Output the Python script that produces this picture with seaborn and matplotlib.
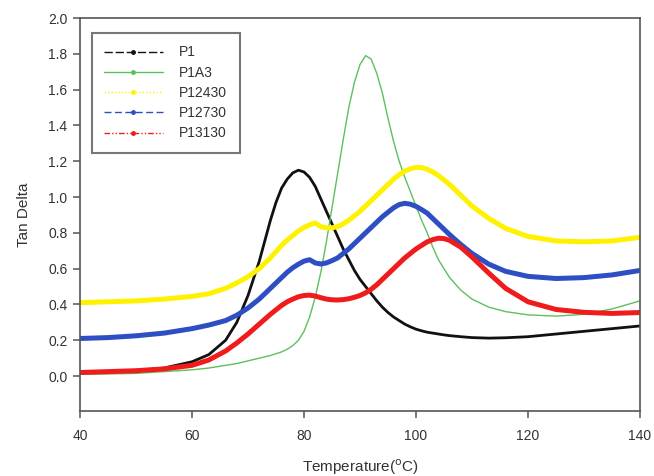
import numpy as np
import pandas as pd
import matplotlib
matplotlib.use("Agg")
import matplotlib.pyplot as plt
from matplotlib.lines import Line2D
import seaborn as sns

# temperatures (degC)
temps = [40, 45, 50, 55, 60, 63, 66, 68, 70, 72, 74, 75, 76, 77, 78, 79, 80, 81, 82, 83, 84, 85, 86, 87, 88, 89,
         90, 91, 92, 93, 94, 95, 96, 97, 98, 99, 100, 101, 102, 103, 104, 105, 106, 108, 110, 113, 116, 120,
         125, 130, 135, 140]

p1 = [0.02, 0.022, 0.03, 0.045, 0.08, 0.12, 0.2, 0.3, 0.45, 0.64, 0.87, 0.97, 1.05, 1.1, 1.135, 1.15, 1.14, 1.11,
      1.06, 0.99, 0.92, 0.85, 0.78, 0.71, 0.65, 0.59, 0.54, 0.5, 0.46, 0.42, 0.385, 0.355, 0.33, 0.31, 0.29, 0.275,
      0.262, 0.253, 0.245, 0.24, 0.235, 0.23, 0.226, 0.22, 0.215, 0.212, 0.214, 0.22, 0.235, 0.25, 0.265, 0.28]
p1a3 = [0.01, 0.012, 0.015, 0.025, 0.035, 0.045, 0.06, 0.07, 0.085, 0.1, 0.115, 0.125, 0.135, 0.15, 0.17, 0.2, 0.25,
        0.33, 0.44, 0.58, 0.75, 0.94, 1.13, 1.32, 1.5, 1.64, 1.74, 1.79, 1.77, 1.69, 1.58, 1.44, 1.31, 1.2, 1.11, 1.03,
        0.95, 0.87, 0.8, 0.72, 0.65, 0.6, 0.55, 0.48, 0.43, 0.385, 0.36, 0.342, 0.335, 0.345, 0.375, 0.42]
p12430 = [0.41, 0.415, 0.42, 0.43, 0.445, 0.46, 0.49, 0.52, 0.555, 0.6, 0.66, 0.695, 0.73, 0.76, 0.785, 0.81, 0.83,
          0.845, 0.855, 0.835, 0.828, 0.828, 0.835, 0.85, 0.87, 0.895, 0.92, 0.95, 0.98, 1.01, 1.04, 1.07, 1.1, 1.125,
          1.145, 1.158, 1.165, 1.165, 1.155, 1.14, 1.12, 1.095, 1.07, 1.01, 0.95, 0.88, 0.825, 0.78, 0.755, 0.75,
          0.755, 0.775]
p12730 = [0.21, 0.215, 0.225, 0.24, 0.265, 0.285, 0.31, 0.34, 0.38, 0.43, 0.49, 0.52, 0.55, 0.58, 0.605, 0.625, 0.642,
          0.65, 0.632, 0.626, 0.632, 0.645, 0.66, 0.685, 0.71, 0.74, 0.77, 0.8, 0.83, 0.86, 0.89, 0.915, 0.94, 0.958,
          0.965, 0.96, 0.948, 0.93, 0.91, 0.88, 0.85, 0.82, 0.79, 0.735, 0.685, 0.625, 0.585, 0.557, 0.545, 0.55,
          0.565, 0.59]
p13130 = [0.02, 0.025, 0.03, 0.04, 0.06, 0.09, 0.14, 0.185, 0.235, 0.29, 0.345, 0.37, 0.395, 0.415, 0.43, 0.443, 0.45,
          0.452, 0.447, 0.438, 0.43, 0.426, 0.425, 0.427, 0.432, 0.44, 0.45, 0.465, 0.485, 0.51, 0.54, 0.57, 0.6, 0.63,
          0.66, 0.685, 0.71, 0.73, 0.75, 0.762, 0.77, 0.768, 0.758, 0.72, 0.665, 0.575, 0.49, 0.415, 0.372, 0.356,
          0.35, 0.355]

names = ["P1", "P1A3", "P12430", "P12730", "P13130"]
series = [p1, p1a3, p12430, p12730, p13130]
colors = ["#111111", "#5cc05c", "#fff200", "#2e4fc4", "#f01c1c"]
widths = [2.0, 1.0, 3.6, 3.6, 3.6]
leg_dashes = [(6, 2), None, (1, 1.5), (5, 2.5), (4, 1.5, 1, 1.5, 1, 1.5)]

sns.set_theme(style="ticks")
plt.rcParams["font.family"] = ["Liberation Sans", "DejaVu Sans"]

fig = plt.figure(figsize=(6.54, 4.76), dpi=100)
ax = fig.add_axes([80 / 654, 1 - 411 / 476, 560 / 654, 393 / 476])

for name, vals, c, lw in zip(names, series, colors, widths):
    df = pd.DataFrame({"Temperature": temps, "TanDelta": vals})
    sns.lineplot(data=df, x="Temperature", y="TanDelta", ax=ax, color=c, linewidth=lw)

ax.set_xlim(40, 140)
ax.set_ylim(-0.195, 2.0)
ax.set_xticks([40, 60, 80, 100, 120, 140])
ax.set_yticks(np.arange(0, 2.01, 0.2))
ax.set_yticklabels([f"{v:.1f}" for v in np.arange(0, 2.01, 0.2)])

for s in ax.spines.values():
    s.set_color("#555555")
    s.set_linewidth(1.2)
ax.tick_params(axis="both", colors="#555555", labelcolor="#333333", labelsize=10, length=5, width=1.1)
ax.tick_params(axis="x", pad=8)
ax.tick_params(axis="y", pad=4)

ax.set_xlabel(r"Temperature($^{\mathrm{o}}$C)", fontsize=11, color="#333333", labelpad=10)
ax.set_ylabel("Tan Delta", fontsize=11, color="#333333", labelpad=12)

handles = []
for name, c, d in zip(names, colors, leg_dashes):
    h = Line2D([0], [0], color=c, linewidth=1.0, marker="o", markersize=2.5)
    if d is not None:
        h.set_dashes(d)
    handles.append(h)
leg = ax.legend(handles, names, loc="upper left", bbox_to_anchor=(0.021, 0.962), borderaxespad=0,
                frameon=True, fancybox=False, edgecolor="#555555", fontsize=10, numpoints=1,
                handlelength=4.2, handletextpad=1.2, labelspacing=0.45, borderpad=0.9)
leg.get_frame().set_linewidth(1.5)
for t in leg.get_texts():
    t.set_color("#333333")

fig.savefig("out.png", dpi=100)
